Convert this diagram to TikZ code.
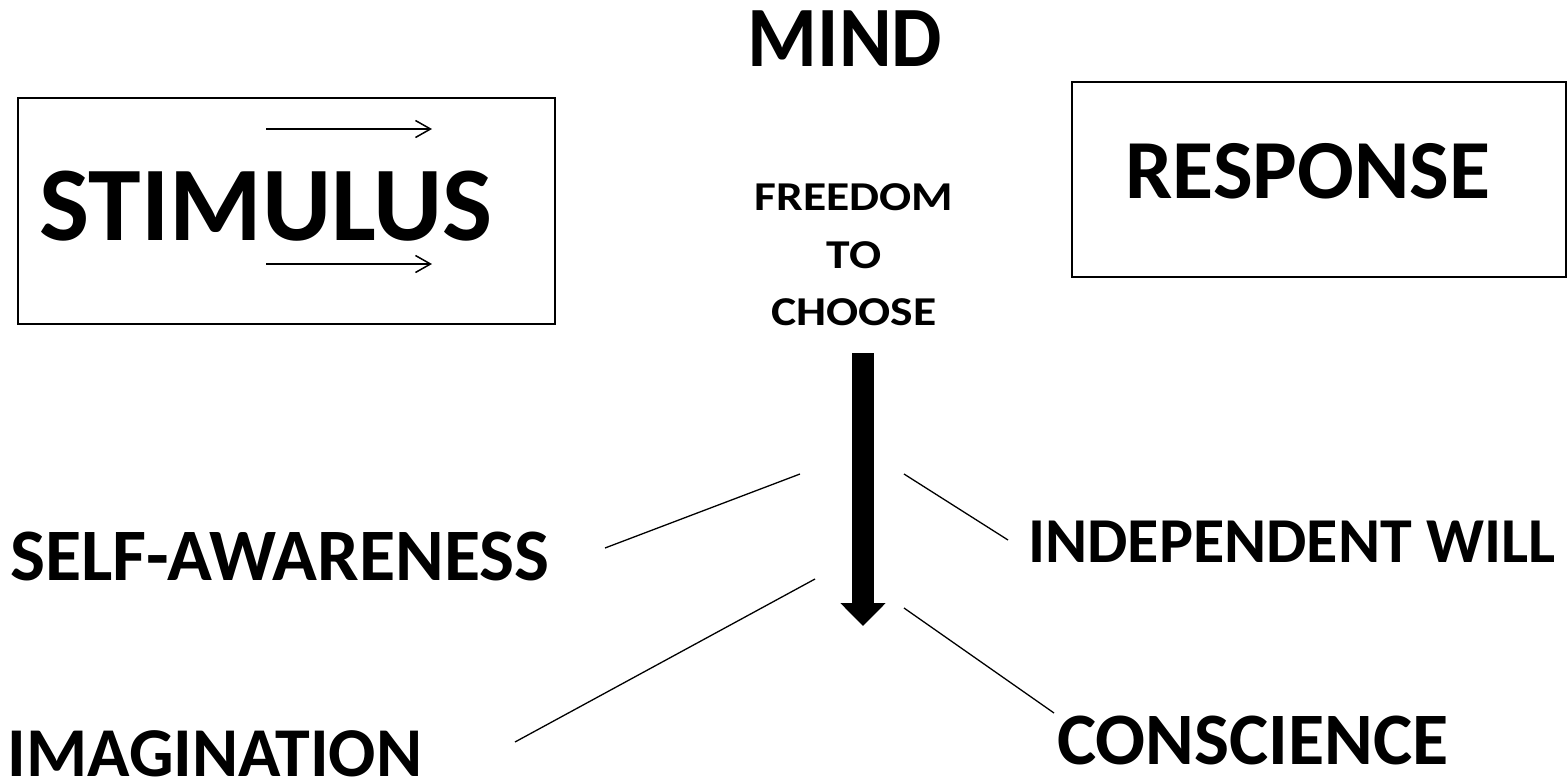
\documentclass[tikz,border=0pt]{standalone}
\usepackage{fontspec}
\setmainfont{Carlito}
\usetikzlibrary{arrows.meta}
\begin{document}
\begin{tikzpicture}[x=1pt,y=-1pt,
  lbl/.style={font=\bfseries, inner sep=0pt, anchor=center},
  frame/.style={draw, line width=2pt},
  thin/.style={line width=1.3pt},
  smallarrow/.style={line width=1.5pt, -{Straight Barb[length=15pt,width=17pt,line width=1.5pt]}}]
\useasboundingbox (0,0) rectangle (1567,782);
% boxes
\draw[frame] (18,98) rectangle (555,324);
\draw[frame] (1072,82) rectangle (1566,277);
% texts
\node[lbl, font=\bfseries\fontsize{106}{120}\selectfont] (stim) at (266,206) {STIMULUS};
\node[lbl, font=\bfseries\fontsize{84}{100}\selectfont] (resp) at (1308,171) {RESPONSE};
\node[lbl, xscale=0.93, font=\bfseries\fontsize{86}{100}\selectfont] (mind) at (845,39) {MIND};
\node[lbl, xscale=1.16, align=center, font=\bfseries\fontsize{41}{57.5}\selectfont] (free) at (854,255) {FREEDOM\\TO\\CHOOSE};
\node[lbl, font=\bfseries\fontsize{74}{90}\selectfont] (self) at (280,556) {SELF-AWARENESS};
\node[lbl, font=\bfseries\fontsize{64}{80}\selectfont] (will) at (1292,542) {INDEPENDENT WILL};
\node[lbl, font=\bfseries\fontsize{70}{90}\selectfont] (imag) at (215,754) {IMAGINATION};
\node[lbl, font=\bfseries\fontsize{74}{90}\selectfont] (cons) at (1253,740) {CONSCIENCE};
% small arrows
\coordinate (a1s) at (266,129); \coordinate (a1e) at (432,129);
\coordinate (a2s) at (266,264); \coordinate (a2e) at (432,264);
\draw[smallarrow] (a1s) -- (a1e);
\draw[smallarrow] (a2s) -- (a2e);
% big arrow
\coordinate (bs) at (863,353); \coordinate (be) at (863,626);
\draw[line width=22pt, -{Triangle[length=23pt,width=44pt]}] (bs) -- (be);
% lines
\coordinate (l1a) at (605,548); \coordinate (l1b) at (800,474);
\coordinate (l2a) at (515,742); \coordinate (l2b) at (815,579);
\coordinate (l3a) at (904,474); \coordinate (l3b) at (1008,540);
\coordinate (l4a) at (904,608); \coordinate (l4b) at (1054,713);
\draw[thin] (l1a) -- (l1b);
\draw[thin] (l2a) -- (l2b);
\draw[thin] (l3a) -- (l3b);
\draw[thin] (l4a) -- (l4b);
\end{tikzpicture}
\end{document}
